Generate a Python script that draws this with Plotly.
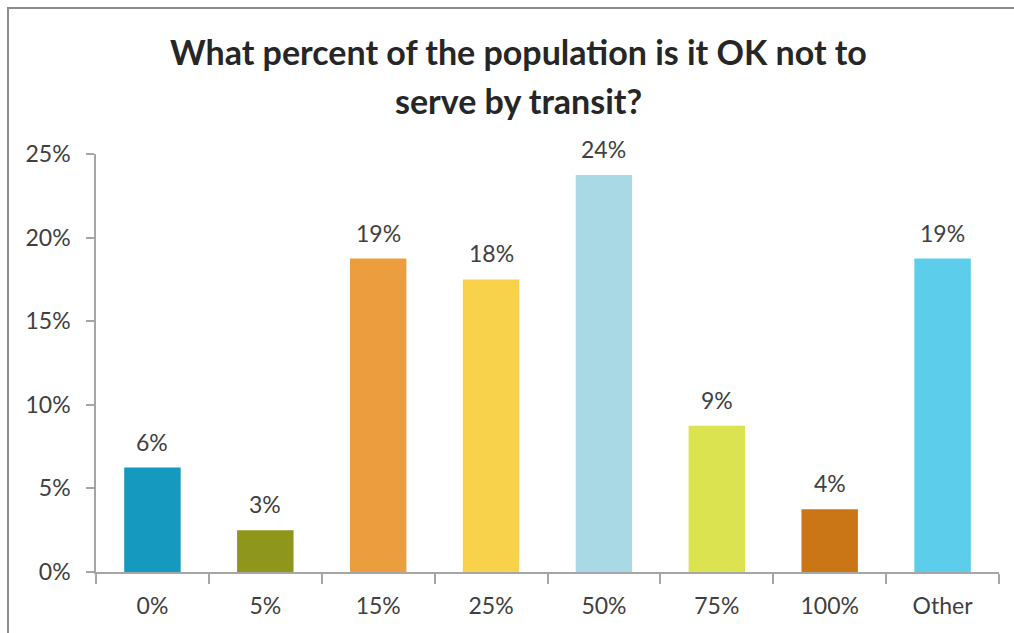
import plotly.graph_objects as go

# Survey answers: share of respondents choosing each threshold
categories = ["0%", "5%", "15%", "25%", "50%", "75%", "100%", "Other"]
shares = [6.25, 2.5, 18.75, 17.5, 23.75, 8.75, 3.75, 18.75]
bar_colors = ["#1699BF", "#8E961C", "#EC9D3D", "#F8D24A",
              "#A9D9E4", "#DBE351", "#CB7616", "#5DCDEC"]
y_ticks = [0, 5, 10, 15, 20, 25]
y_tick_labels = ["0%", "5%", "10%", "15%", "20%", "25%"]

title_lines = ["What percent of the population is it OK not to",
               "serve by transit?"]

text_color = "#404040"
axis_color = "#A6A6A6"
font_family = "Lato, 'Open Sans', sans-serif"

W, H = 1014, 633
ML, MR, MT, MB = 96, 15, 154, 61
plot_h = H - MT - MB


def paper_y(py):
    return (H - MB - py) / plot_h


def paper_x(px):
    return (px - ML) / (W - ML - MR)


fig = go.Figure(
    go.Bar(
        x=categories,
        y=shares,
        marker=dict(color=bar_colors, line=dict(width=0)),
        hoverinfo="x+y",
    )
)

# value labels above each bar, rounded to whole percent
for cat, val in zip(categories, shares):
    fig.add_annotation(
        x=cat, y=val, xref="x", yref="y",
        text=f"{int(val + 0.5)}%",
        showarrow=False, yanchor="bottom", yshift=10,
        font=dict(family=font_family, size=23, color=text_color),
    )

# two-line title, centred on the chart frame
for line, py in zip(title_lines, [52, 100]):
    fig.add_annotation(
        x=paper_x(518), y=paper_y(py), xref="paper", yref="paper",
        xanchor="center", yanchor="middle",
        text=f"<b>{line}</b>", showarrow=False,
        font=dict(family=font_family, size=34, color="#262626"),
    )

# outer chart frame (top and left edges visible)
fig.add_shape(
    type="rect", xref="paper", yref="paper",
    x0=paper_x(8), x1=paper_x(W + 20), y0=paper_y(H + 20), y1=paper_y(8),
    line=dict(color="#8C8C8C", width=2), fillcolor="rgba(0,0,0,0)",
    layer="above",
)

fig.update_layout(
    width=W, height=H,
    margin=dict(l=ML, r=MR, t=MT, b=MB),
    paper_bgcolor="white", plot_bgcolor="white",
    bargap=0.5, showlegend=False,
    font=dict(family=font_family, color=text_color),
    xaxis=dict(
        type="category", range=[-0.5, 7.5],
        showline=True, linecolor=axis_color, linewidth=1.5,
        ticks="outside", tickson="boundaries", ticklen=10,
        tickcolor=axis_color, tickwidth=1.5,
        tickfont=dict(family=font_family, size=23, color=text_color),
        ticklabelstandoff=13,
        showgrid=False, zeroline=False,
    ),
    yaxis=dict(
        range=[0, 25], tickvals=y_ticks, ticktext=y_tick_labels,
        showline=True, linecolor=axis_color, linewidth=1.5,
        ticks="outside", ticklen=8, tickcolor=axis_color, tickwidth=1.5,
        tickfont=dict(family=font_family, size=23, color=text_color),
        ticklabelstandoff=11,
        showgrid=False, zeroline=False,
    ),
)

fig.write_html("out.html")
